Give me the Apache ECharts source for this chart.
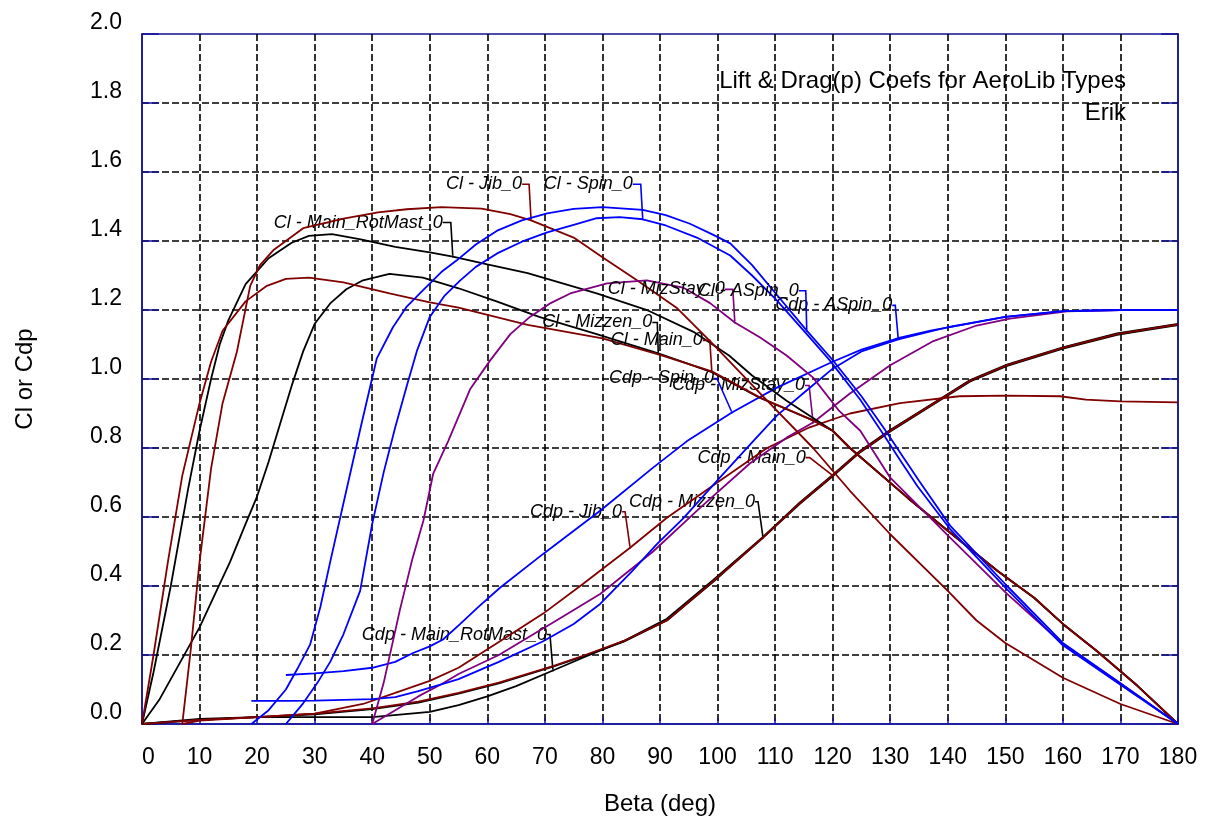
<!DOCTYPE html>
<html><head><meta charset="utf-8">
<script src="https://cdn.jsdelivr.net/npm/echarts@6/dist/echarts.min.js"></script>
<style>html,body{margin:0;padding:0;background:#fff}#c{width:1217px;height:820px}</style>
</head><body><div id="c"></div>
<script>
// ---- data: [Beta (deg), coefficient] ----
const cdpMainRotMast = [[0,0],[10,0.015],[20,0.02],[30,0.02],[40,0.02],[50,0.035],[55,0.055],[60,0.08],[65,0.11],[71.4,0.155],[77,0.195],[83.6,0.24],[91.2,0.305],[99.3,0.418],[107.9,0.542],[114.3,0.642],[120,0.722],[124.8,0.792],[130,0.852],[139.2,0.948],[143.9,0.997],[150.3,1.042],[160,1.092],[169.4,1.132],[175,1.147],[180,1.16]];
const cdpMizzen = [[0,0],[10,0.012],[20,0.02],[30,0.028],[40,0.043],[48,0.062],[55,0.088],[62,0.118],[71.4,0.166],[77,0.198],[83.6,0.238],[91.2,0.3],[99.3,0.413],[107.9,0.54],[114.3,0.638],[120,0.718],[124.8,0.788],[130,0.848],[139.2,0.944],[143.9,0.993],[150.3,1.038],[160,1.088],[169.4,1.128],[175,1.143],[180,1.156]];
const cdpMain = [[0,0],[10,0.012],[20,0.02],[30,0.03],[40,0.045],[48,0.065],[55,0.09],[62,0.12],[71.4,0.168],[77,0.2],[83.6,0.24],[91.2,0.3],[99.3,0.415],[107.9,0.54],[114.3,0.64],[120,0.72],[124.8,0.79],[130,0.85],[139.2,0.946],[143.9,0.995],[150.3,1.04],[160,1.09],[169.4,1.13],[175,1.145],[180,1.158]];
const cdpJib = [[7,0],[10,0.01],[20,0.02],[30,0.03],[38.4,0.058],[44,0.09],[50,0.125],[55,0.163],[62.2,0.24],[69.7,0.32],[76.6,0.406],[84.8,0.511],[91.2,0.598],[100.4,0.705],[108.6,0.8],[116,0.86],[123,0.9],[131.7,0.93],[142,0.95],[150,0.952],[159.5,0.95],[164,0.94],[170,0.935],[180,0.932]];
const cdpMizStay = [[40,0],[44,0.04],[48,0.08],[52,0.115],[55,0.145],[62,0.2],[68,0.26],[72,0.3],[79.6,0.377],[88.8,0.5],[97,0.627],[105.6,0.755],[112,0.83],[116.6,0.874],[123,0.958],[130,1.04],[137.5,1.11],[145,1.155],[150.8,1.175],[160.7,1.196],[170,1.2],[180,1.2]];
const cdpSpin = [[25,0.142],[30,0.147],[35,0.153],[40,0.163],[44,0.18],[47,0.205],[50,0.225],[52.3,0.245],[55.3,0.29],[58.5,0.34],[62.2,0.395],[69.7,0.493],[79.6,0.618],[88.8,0.743],[94.7,0.82],[102.5,0.903],[110.3,0.975],[120,1.05],[125,1.085],[131.7,1.12],[137,1.14],[145,1.165],[150,1.18],[160,1.197],[170,1.2],[180,1.2]];
const cdpASpin = [[19,0.067],[25,0.067],[30,0.068],[35,0.07],[40,0.072],[44,0.078],[48,0.095],[52,0.115],[55,0.13],[62,0.18],[69.7,0.24],[75,0.29],[79.6,0.348],[85,0.44],[89.5,0.522],[94,0.595],[100.4,0.714],[106.2,0.82],[110.3,0.894],[115,0.96],[120,1.03],[125,1.08],[131.4,1.115],[140,1.15],[150,1.18],[160,1.197],[170,1.2],[180,1.2]];
const clMizzen = [[0,0],[3,0.07],[5,0.13],[8,0.22],[10,0.28],[12.5,0.37],[15.3,0.47],[18,0.58],[20,0.66],[22,0.76],[24,0.87],[26,0.98],[28,1.08],[30,1.16],[32.7,1.219],[35.5,1.26],[38.4,1.286],[43,1.305],[48.8,1.294],[55,1.263],[61.6,1.225],[69,1.18],[79,1.13],[89.7,1.074],[99,1.02],[107.4,0.945],[116.6,0.88],[120,0.85],[123,0.8],[133,0.656],[140,0.56],[148.6,0.444],[155,0.366],[160,0.29],[166,0.21],[173,0.11],[180,0]];
const clMainRotMast = [[0,0],[2,0.15],[5,0.4],[8,0.68],[10,0.85],[12,1.0],[13.5,1.1],[15,1.17],[18,1.275],[22,1.35],[26,1.395],[29,1.415],[33,1.42],[38,1.405],[44,1.383],[50,1.367],[54,1.355],[60,1.332],[67,1.307],[79,1.248],[88,1.198],[96,1.135],[102,1.068],[106,1.01],[112,0.937],[120,0.85],[123,0.8],[133,0.656],[140,0.56],[148.6,0.444],[155,0.366],[160,0.29],[166,0.21],[173,0.11],[180,0]];
const clMain = [[0,0],[2,0.2],[4.5,0.47],[7,0.72],[10,0.93],[12,1.05],[14,1.14],[18,1.225],[21.7,1.27],[25,1.29],[29,1.294],[35,1.28],[43,1.248],[50,1.222],[55,1.207],[67,1.157],[80,1.118],[90,1.07],[99,1.022],[107.4,0.946],[116.6,0.88],[120,0.85],[123,0.8],[133,0.656],[140,0.56],[148.6,0.444],[155,0.366],[160,0.29],[166,0.21],[173,0.11],[180,0]];
const clJib = [[7,0],[8.5,0.22],[10,0.47],[12,0.74],[14,0.93],[16.5,1.08],[18.8,1.27],[20.5,1.33],[22.8,1.373],[28,1.437],[35,1.465],[41,1.483],[46,1.492],[52,1.498],[59,1.494],[64,1.478],[67.6,1.46],[75,1.41],[80,1.353],[86,1.286],[90,1.24],[93,1.205],[99,1.105],[107.4,0.958],[116.6,0.8],[123,0.676],[130,0.55],[140,0.386],[145,0.3],[150,0.235],[160,0.134],[170,0.058],[180,0]];
const clMizStay = [[40,0],[42,0.12],[44.8,0.33],[47,0.48],[48.9,0.59],[50.6,0.726],[53.2,0.82],[57,0.97],[60.5,1.054],[64,1.13],[67.4,1.18],[71,1.22],[74.4,1.248],[80.8,1.277],[87.7,1.286],[94,1.265],[98.7,1.22],[103,1.164],[107.4,1.12],[112,1.068],[116.6,1.004],[121,0.91],[124.8,0.85],[130,0.714],[140.4,0.54],[150.3,0.377],[160,0.232],[169.4,0.125],[180,0]];
const clSpin = [[25,0],[28,0.06],[30.5,0.12],[32.7,0.18],[35,0.26],[37.9,0.386],[40,0.58],[42,0.73],[44,0.86],[46,0.98],[47.8,1.083],[50,1.18],[52.5,1.24],[55.3,1.286],[58,1.325],[61.7,1.364],[66,1.398],[70.4,1.425],[75,1.447],[79,1.466],[83,1.469],[87,1.463],[91,1.445],[96.4,1.41],[102.2,1.358],[106,1.3],[110.3,1.228],[115.5,1.13],[119.5,1.054],[124.8,0.94],[128.8,0.84],[131.7,0.765],[134.7,0.69],[140.4,0.565],[150.3,0.39],[160,0.228],[170,0.114],[180,0]];
const clASpin = [[19,0],[22,0.04],[25,0.1],[27,0.16],[29.2,0.23],[31,0.34],[32.7,0.47],[35,0.64],[38,0.86],[40.8,1.06],[43.6,1.15],[46,1.21],[48.8,1.257],[52,1.31],[54.7,1.344],[58,1.39],[61.7,1.43],[66,1.46],[70.4,1.48],[75,1.493],[80,1.498],[87,1.49],[91,1.475],[95.2,1.45],[99,1.42],[102.2,1.393],[106,1.33],[110,1.25],[115.5,1.14],[120,1.055],[125,0.95],[129,0.855],[132,0.78],[135,0.705],[140.4,0.575],[150.3,0.4],[160,0.235],[170,0.118],[180,0]];

const titleLines = ['Lift & Drag(p) Coefs for AeroLib Types', 'Erik'];
const xName = 'Beta (deg)';
const yName = 'Cl or Cdp';

// ---- styling / placement (kept apart from data) ----
const BLACK = '#000000', RED = '#800000', BLUE = '#0000ff', PURPLE = '#800080', NAVY = '#12129a';
const FONT = 'Liberation Sans';
const curves = [
  {name:'Cdp - Main_RotMast_0', data: cdpMainRotMast, color: BLACK},
  {name:'Cdp - Mizzen_0', data: cdpMizzen, color: BLACK},
  {name:'Cdp - Main_0', data: cdpMain, color: RED},
  {name:'Cdp - Jib_0', data: cdpJib, color: RED},
  {name:'Cdp - MizStay_0', data: cdpMizStay, color: PURPLE},
  {name:'Cdp - Spin_0', data: cdpSpin, color: BLUE},
  {name:'Cdp - ASpin_0', data: cdpASpin, color: BLUE},
  {name:'Cl - Mizzen_0', data: clMizzen, color: BLACK},
  {name:'Cl - Main_RotMast_0', data: clMainRotMast, color: BLACK},
  {name:'Cl - Main_0', data: clMain, color: RED},
  {name:'Cl - Jib_0', data: clJib, color: RED},
  {name:'Cl - MizStay_0', data: clMizStay, color: PURPLE},
  {name:'Cl - Spin_0', data: clSpin, color: BLUE},
  {name:'Cl - ASpin_0', data: clASpin, color: BLUE}
];
// label anchor (beta of the data point the leader points to) and pixel offset of the text's right/middle
const labelPlacement = {
  'Cl - Main_RotMast_0': {at:54, dx:-10, dy:-34, l2:8},
  'Cl - Jib_0': {at:67.6, dx:-9, dy:-36, l2:7},
  'Cl - Spin_0': {at:87, dx:-10, dy:-35, l2:8},
  'Cl - MizStay_0': {at:103, dx:-10, dy:-33, l2:8},
  'Cl - ASpin_0': {at:115.5, dx:-8, dy:-40, l2:7},
  'Cdp - ASpin_0': {at:131.4, dx:-6, dy:-34, l2:3},
  'Cl - Mizzen_0': {at:89.7, dx:-6, dy:-31, l2:5},
  'Cl - Main_0': {at:99, dx:-9, dy:-31, l2:7},
  'Cdp - Spin_0': {at:102.5, dx:-18, dy:-34, l2:3},
  'Cdp - MizStay_0': {at:116.6, dx:-8, dy:-37, l2:4},
  'Cdp - Main_0': {at:120, dx:-27, dy:-18, l2:4},
  'Cdp - Mizzen_0': {at:107.9, dx:-8, dy:-36, l2:3},
  'Cdp - Jib_0': {at:84.8, dx:-8, dy:-36, l2:3},
  'Cdp - Main_RotMast_0': {at:71.4, dx:-6, dy:-36, l2:3}
};

function buildSeries(c, i) {
  const place = labelPlacement[c.name];
  return {
    type: 'line', name: c.name, z: 2 + i * 0.01,
    showSymbol: true, symbol: 'circle', symbolSize: 0,
    data: c.data.map(p => {
      if (place && p[0] === place.at) {
        return {value: p, symbolSize: 2,
          label: {show: true, position: [place.dx + 1, place.dy + 1]},
          labelLine: {show: true, length2: place.l2}};
      }
      return {value: p, symbolSize: 0};
    }),
    lineStyle: {color: c.color, width: 1.8},
    itemStyle: {color: c.color},
    label: {show: false, formatter: c.name, align: 'right', verticalAlign: 'middle',
      fontSize: 18, fontStyle: 'italic', fontFamily: FONT, color: '#000'},
    labelLine: {show: false, lineStyle: {color: c.color, width: 1.6}},
    emphasis: {disabled: true}, silent: true, animation: false
  };
}

const chart = echarts.init(document.getElementById('c'), null, {renderer: 'canvas'});
const gridLine = {show: true, showMinLine: false, showMaxLine: false, lineStyle: {color: '#000', type: [7, 3], width: 1.6}};
chart.setOption({
  animation: false,
  backgroundColor: '#fff',
  textStyle: {fontFamily: FONT},
  grid: {left: 142, right: 39, top: 34, bottom: 96, containLabel: false, outerBoundsMode: 'none',
    show: true, borderColor: NAVY, borderWidth: 1.5, backgroundColor: '#fff'},
  graphic: titleLines.map((t, k) => ({type: 'text', right: 91, top: 69 + k * 32, z: 100,
    style: {text: t, fontSize: 24, fontFamily: FONT, fill: '#000', align: 'right'}})),
  xAxis: [{type: 'value', min: 0, max: 180, interval: 10, position: 'bottom',
    axisLine: {show: true, lineStyle: {color: NAVY, width: 1.5}},
    axisTick: {show: true, inside: true, length: 6, lineStyle: {color: NAVY, width: 1.5}},
    axisLabel: {fontSize: 23, color: '#000', margin: 22, fontFamily: FONT, alignMinLabel: 'left'},
    splitLine: gridLine,
    name: xName, nameLocation: 'middle', nameGap: 68,
    nameTextStyle: {fontSize: 24, color: '#000', fontFamily: FONT}}],
  yAxis: [{type: 'value', min: 0, max: 2, interval: 0.2, position: 'left',
    axisLine: {show: true, lineStyle: {color: NAVY, width: 1.5}},
    axisTick: {show: true, inside: true, length: 17, lineStyle: {color: NAVY, width: 1.5}},
    axisLabel: {fontSize: 23, color: '#000', margin: 20, fontFamily: FONT, verticalAlign: 'bottom',
      formatter: v => v.toFixed(1)},
    splitLine: gridLine,
    name: yName, nameLocation: 'middle', nameGap: 105,
    nameTextStyle: {fontSize: 24, color: '#000', fontFamily: FONT}},
   {type: 'value', min: 0, max: 2, interval: 0.2, position: 'right',
    axisLine: {show: true, lineStyle: {color: NAVY, width: 1.5}},
    axisTick: {show: true, inside: true, length: 17, lineStyle: {color: NAVY, width: 1.5}},
    axisLabel: {show: false}, splitLine: {show: false}}],
  series: curves.map(buildSeries)
});
</script></body></html>
